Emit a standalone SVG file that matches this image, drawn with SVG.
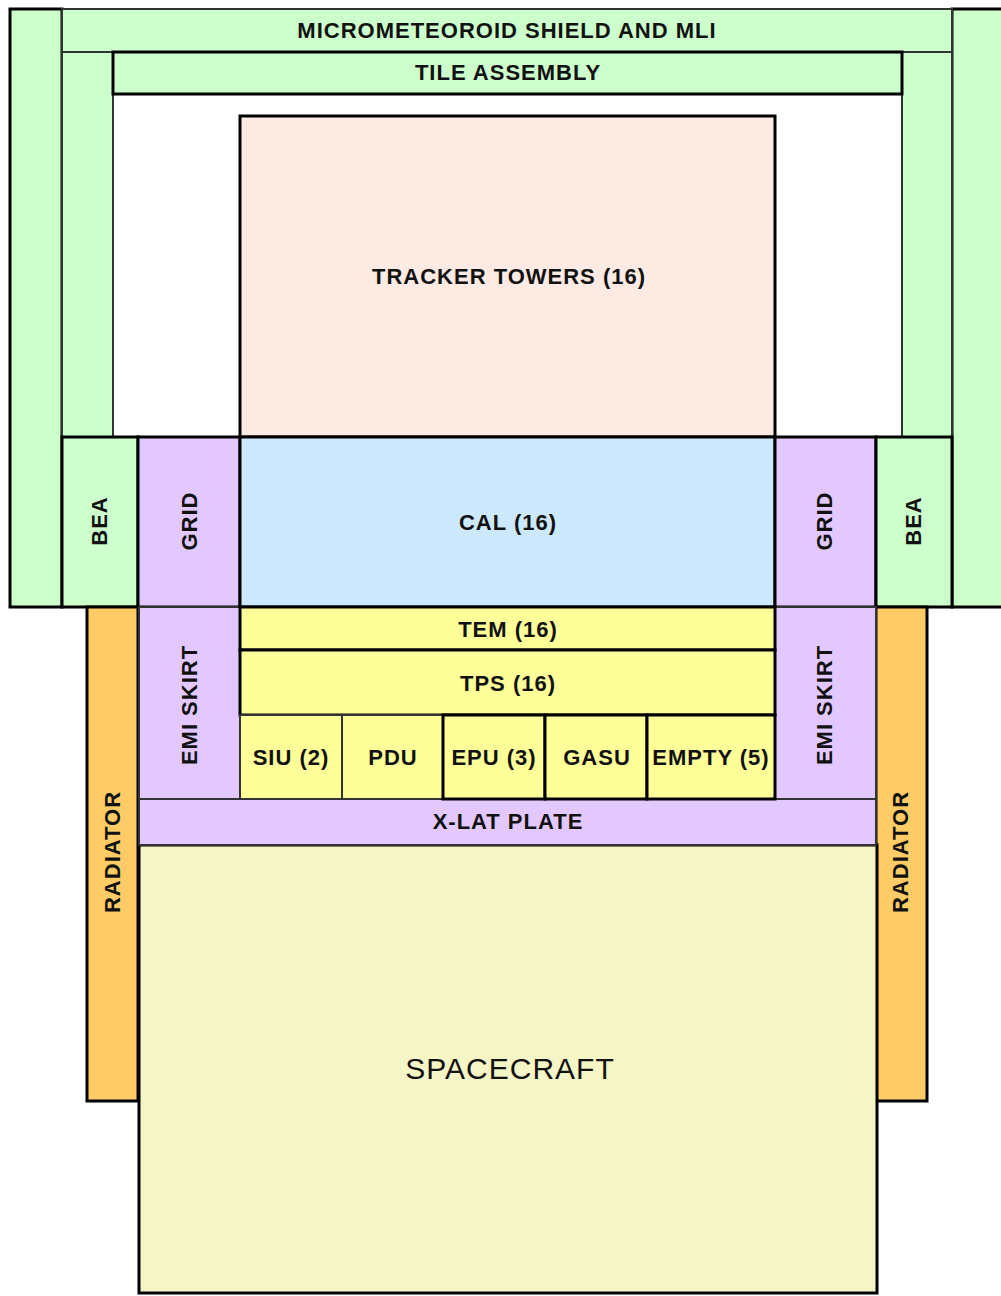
<svg xmlns="http://www.w3.org/2000/svg" width="1001" height="1296" viewBox="0 0 1001 1296">
<style>
rect{stroke:#000;stroke-width:3}
rect.bg{stroke:none;fill:#fff}
.g{fill:#CCFFCC}.p{fill:#E2C8FF}.b{fill:#CCE8FC}.t{fill:#FDEAE3}.y{fill:#FFFF99}.s{fill:#F5F5C6}.o{fill:#FECC66}
.thin{stroke:#333;stroke-width:2}
text{font-family:"Liberation Sans",Arial,sans-serif;font-weight:bold;font-size:22px;letter-spacing:1px;fill:#111;text-anchor:middle;dominant-baseline:central}
.big{font-weight:normal;font-size:30px}
</style>
<rect class="bg" width="1001" height="1296"/>
<g id="shield">
<rect class="g" x="10" y="9" width="52" height="598"/>
<rect class="g" x="952" y="9" width="52" height="598"/>
<rect class="g thin" x="62" y="9" width="890" height="43"/>
<text x="507" y="30">MICROMETEOROID SHIELD AND MLI</text>
</g>
<g id="tile">
<rect class="g thin" x="62" y="52" width="51" height="385"/>
<rect class="g thin" x="902" y="52" width="50" height="385"/>
<rect class="g" x="113" y="52" width="789" height="42"/>
<text x="508" y="72">TILE ASSEMBLY</text>
</g>
<g id="tracker">
<rect class="t" x="240" y="116" width="535" height="321"/>
<text x="509" y="276">TRACKER TOWERS (16)</text>
</g>
<g id="bea-left"><rect class="g" x="62" y="437" width="76" height="170"/><text transform="translate(99 521) rotate(-90)">BEA</text></g>
<g id="grid-left"><rect class="p" x="138" y="437" width="102" height="170"/><text transform="translate(189 521) rotate(-90)">GRID</text></g>
<g id="cal"><rect class="b" x="240" y="437" width="535" height="170"/><text x="508" y="522">CAL (16)</text></g>
<g id="grid-right"><rect class="p" x="775" y="437" width="101" height="170"/><text transform="translate(824 521) rotate(-90)">GRID</text></g>
<g id="bea-right"><rect class="g" x="876" y="437" width="76" height="170"/><text transform="translate(913 521) rotate(-90)">BEA</text></g>
<g id="radiator-left"><rect class="o" x="87" y="607" width="51" height="494"/><text transform="translate(112 852) rotate(-90)">RADIATOR</text></g>
<g id="radiator-right"><rect class="o" x="876" y="607" width="51" height="494"/><text transform="translate(900 852) rotate(-90)">RADIATOR</text></g>
<g id="spacecraft"><rect class="s" x="139" y="845" width="738" height="448"/><text class="big" x="510" y="1068">SPACECRAFT</text></g>
<g id="emi-left"><rect class="p thin" x="139" y="607" width="101" height="192"/><text transform="translate(189 705) rotate(-90)">EMI SKIRT</text></g>
<g id="emi-right"><rect class="p thin" x="775" y="607" width="101" height="192"/><text transform="translate(824 705) rotate(-90)">EMI SKIRT</text></g>
<g id="xlat"><rect class="p thin" x="139" y="799" width="737" height="46"/><text x="508" y="821">X-LAT PLATE</text></g>
<g id="tem"><rect class="y" x="240" y="607" width="535" height="43"/><text x="508" y="629">TEM (16)</text></g>
<g id="tps"><rect class="y" x="240" y="650" width="535" height="65"/><text x="508" y="683">TPS (16)</text></g>
<g id="siu"><rect class="y thin" x="240" y="715" width="102" height="84"/><text x="291" y="757">SIU (2)</text></g>
<g id="pdu"><rect class="y thin" x="342" y="715" width="101" height="84"/><text x="393" y="757">PDU</text></g>
<g id="epu"><rect class="y" x="443" y="715" width="102" height="84"/><text x="494" y="757">EPU (3)</text></g>
<g id="gasu"><rect class="y" x="545" y="715" width="102" height="84"/><text x="597" y="757">GASU</text></g>
<g id="empty"><rect class="y" x="647" y="715" width="128" height="84"/><text x="711" y="757">EMPTY (5)</text></g>
</svg>
